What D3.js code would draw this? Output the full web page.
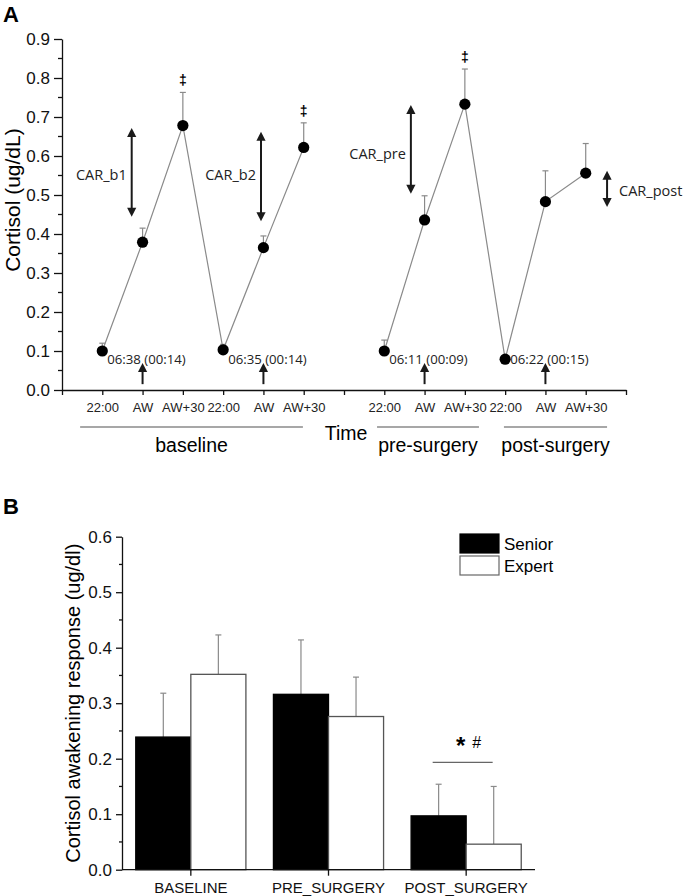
<!DOCTYPE html>
<html><head><meta charset="utf-8">
<script src="https://cdn.jsdelivr.net/npm/d3@7"></script>
<style>
body{margin:0;background:#fff;}
svg{display:block;}
.ax text{font-family:"Liberation Sans",Arial,sans-serif;}
</style>
</head><body>
<svg id="c" width="685" height="896"></svg>
<script>
// ---------- Panel A data ----------
const xIndexLabels = ["", "22:00","AW","AW+30","22:00","AW","AW+30","", "22:00","AW","AW+30","22:00","AW","AW+30",""];
const baselineX = [1,2,3,4,5,6];
const baselineMean = [0.100, 0.379, 0.678, 0.103, 0.365, 0.622];
const baselineSD   = [0.020, 0.036, 0.085, 0.014, 0.030, 0.063];
const surgeryX = [8,9,10,11,12,13];
const surgeryMean = [0.100, 0.436, 0.733, 0.079, 0.483, 0.556];
const surgerySD   = [0.028, 0.062, 0.090, 0.004, 0.079, 0.076];
const daggerX = [3, 6, 10];
const wakeAW = [2, 5, 9, 12];
const wakeLabels = ["06:38 (00:14)", "06:35 (00:14)", "06:11 (00:09)", "06:22 (00:15)"];
const carLabels = ["CAR_b1", "CAR_b2", "CAR_pre", "CAR_post"];
const carX = [1.73, 4.94, 8.66, 13.53];
const carLow = [0.444, 0.433, 0.503, 0.469];
const carHigh = [0.672, 0.662, 0.731, 0.562];
const carLabelY = [0.551, 0.551, 0.605, 0.510];
const phaseLabels = ["baseline", "pre-surgery", "post-surgery"];
const phaseStart = [0.45, 7.82, 10.97];
const phaseEnd = [5.98, 10.35, 13.53];

// ---------- Panel B data ----------
const categories = ["BASELINE", "PRE_SURGERY", "POST_SURGERY"];
const groups = ["Senior", "Expert"];
const seniorCAR = [0.239, 0.316, 0.097];
const seniorSD  = [0.079, 0.098, 0.057];
const expertCAR = [0.352, 0.276, 0.046];
const expertSD  = [0.071, 0.071, 0.104];

const svg = d3.select("#c");
const SANS = '"Liberation Sans", Arial, sans-serif';
const HUM = '"Open Sans", "Noto Sans", sans-serif';
const GREY = "#8a8a8a";
const DARK = "#1a1a1a";

function arrowHead(g, x, y, dir){ // dir=-1 points up, +1 points down; tip at (x,y)
  const L = 9, W = 4.6;
  g.append("path").attr("d", `M${x},${y} L${x-W},${y - dir*L} L${x+W},${y - dir*L} Z`).attr("fill", DARK);
}
function vArrow(g, x, yTop, yBot, both){
  g.append("line").attr("x1",x).attr("x2",x).attr("y1",yTop+6).attr("y2",both?yBot-6:yBot)
    .attr("stroke",DARK).attr("stroke-width",2);
  arrowHead(g, x, yTop, -1);
  if(both) arrowHead(g, x, yBot, 1);
}

// ===================== PANEL A =====================
const xA = d3.scaleLinear().domain([0,14]).range([62,626]);
const yA = d3.scaleLinear().domain([0,0.9]).range([390,39]);
const gA = svg.append("g");

svg.append("text").attr("x",3).attr("y",22).text("A")
  .attr("font-family",SANS).attr("font-weight","bold").attr("font-size",22);

// y axis
const yAxA = gA.append("g").attr("class","ax").attr("transform",`translate(${xA(0)},0)`)
  .call(d3.axisLeft(yA).tickValues(d3.range(0,10).map(i=>i/10)).tickFormat(d3.format(".1f")).tickSize(8).tickPadding(4).tickSizeOuter(0));
yAxA.selectAll("text").attr("font-size",17).attr("fill","#111");
gA.append("g").attr("transform",`translate(${xA(0)},0)`)
  .selectAll("line").data(d3.range(0,9).map(i=>i/10+0.05)).join("line")
  .attr("x1",-4).attr("x2",0).attr("y1",d=>yA(d)).attr("y2",d=>yA(d)).attr("stroke","#111").attr("stroke-width",1.3);

// x axis
const xAxA = gA.append("g").attr("class","ax").attr("transform",`translate(0,${yA(0)})`)
  .call(d3.axisBottom(xA).tickValues(d3.range(0,15)).tickFormat(i=>xIndexLabels[i]).tickSize(5).tickPadding(8).tickSizeOuter(0));
xAxA.selectAll("text").attr("font-family",HUM).attr("font-size",13).attr("fill","#222");
[yAxA,xAxA].forEach(a=>{a.selectAll("path,line").attr("stroke","#111").attr("stroke-width",1.3);});

svg.append("text").attr("transform",`translate(20,${yA(0.487)}) rotate(-90)`).attr("text-anchor","middle")
  .attr("font-family",SANS).attr("font-size",21).text("Cortisol (ug/dL)");

// phase lines / labels
phaseLabels.forEach((p,i)=>{
  gA.append("line").attr("x1",xA(phaseStart[i])).attr("x2",xA(phaseEnd[i])).attr("y1",427).attr("y2",427)
    .attr("stroke",GREY).attr("stroke-width",1.3);
  gA.append("text").attr("x",xA((phaseStart[i]+phaseEnd[i])/2)).attr("y",452).attr("text-anchor","middle")
    .attr("font-family",SANS).attr("font-size",19.5).text(p);
});
gA.append("text").attr("x",xA(7.05)).attr("y",440).attr("text-anchor","middle")
  .attr("font-family",SANS).attr("font-size",19.5).text("Time");

function drawSeries(xs, mean, sd){
  const pts = xs.map((x,i)=>({x, m:mean[i], s:sd[i]}));
  gA.append("path").datum(pts).attr("fill","none").attr("stroke",GREY).attr("stroke-width",1.2)
    .attr("d", d3.line().x(d=>xA(d.x)).y(d=>yA(d.m)));
  const eb = gA.append("g").attr("stroke",GREY).attr("stroke-width",1.2);
  eb.selectAll("line.v").data(pts).join("line").attr("class","v")
    .attr("x1",d=>xA(d.x)).attr("x2",d=>xA(d.x)).attr("y1",d=>yA(d.m)).attr("y2",d=>yA(d.m+d.s));
  eb.selectAll("line.c").data(pts).join("line").attr("class","c")
    .attr("x1",d=>xA(d.x)-3).attr("x2",d=>xA(d.x)+3).attr("y1",d=>yA(d.m+d.s)).attr("y2",d=>yA(d.m+d.s));
  gA.append("g").selectAll("circle").data(pts).join("circle")
    .attr("cx",d=>xA(d.x)).attr("cy",d=>yA(d.m)).attr("r",5.6).attr("fill","#000");
  return pts;
}
const bPts = drawSeries(baselineX, baselineMean, baselineSD);
const sPts = drawSeries(surgeryX, surgeryMean, surgerySD);
const allPts = bPts.concat(sPts);

// double daggers
daggerX.forEach(x=>{
  const p = allPts.find(d=>d.x===x);
  gA.append("text").attr("x",xA(x)).attr("y",yA(p.m+p.s)-7).attr("text-anchor","middle")
    .attr("font-family",SANS).attr("font-weight","bold").attr("font-size",14).text("\u2021");
});

// wake times & small arrows
wakeAW.forEach((x,i)=>{
  gA.append("text").attr("x",xA(x-1)+5).attr("y",364).attr("font-family",HUM).attr("font-size",13.2)
    .attr("fill","#222").text(wakeLabels[i]);
  vArrow(gA, xA(x), yA(0.069), yA(0.015), false);
});

// CAR arrows
carLabels.forEach((lab,i)=>{
  vArrow(gA, xA(carX[i]), yA(carHigh[i]), yA(carLow[i]), true);
  const right = i===3;
  gA.append("text").attr("x",xA(carX[i]) + (right?12:-5)).attr("y",yA(carLabelY[i])).attr("dy","0.35em")
    .attr("text-anchor", right?"start":"end").attr("font-family",HUM).attr("font-size",14.5).attr("fill","#222").text(lab);
});

// ===================== PANEL B =====================
const gB = svg.append("g");
svg.append("text").attr("x",3).attr("y",514).text("B")
  .attr("font-family",SANS).attr("font-weight","bold").attr("font-size",22);

const xB = d3.scaleBand().domain(categories).range([122,535]).paddingInner(0.2).paddingOuter(0.1);
const xSub = d3.scaleBand().domain(groups).range([0,xB.bandwidth()]);
const yB = d3.scaleLinear().domain([0,0.6]).range([869.7,536.7]);

const yAxB = gB.append("g").attr("class","ax").attr("transform",`translate(122,0)`)
  .call(d3.axisLeft(yB).tickValues(d3.range(0,7).map(i=>i/10)).tickFormat(d3.format(".1f")).tickSize(6).tickPadding(4).tickSizeOuter(0));
yAxB.selectAll("text").attr("font-size",17).attr("fill","#111");
gB.append("g").attr("transform",`translate(122,0)`)
  .selectAll("line").data(d3.range(0,6).map(i=>i/10+0.05)).join("line")
  .attr("x1",-3).attr("x2",0).attr("y1",d=>yB(d)).attr("y2",d=>yB(d)).attr("stroke","#111").attr("stroke-width",1.3);

svg.append("text").attr("transform",`translate(80,${yB(0.3)}) rotate(-90)`).attr("text-anchor","middle")
  .attr("font-family",SANS).attr("font-size",20).text("Cortisol awakening response (ug/dl)");

const rows = categories.map((c,i)=>[
  {c, g:"Senior", v:seniorCAR[i], s:seniorSD[i]},
  {c, g:"Expert", v:expertCAR[i], s:expertSD[i]}
]).flat();

// error bars (behind bars)
const ebB = gB.append("g").attr("stroke",GREY).attr("stroke-width",1.2);
ebB.selectAll("line.v").data(rows).join("line").attr("class","v")
  .attr("x1",d=>xB(d.c)+xSub(d.g)+xSub.bandwidth()/2).attr("x2",d=>xB(d.c)+xSub(d.g)+xSub.bandwidth()/2)
  .attr("y1",d=>yB(d.v)).attr("y2",d=>yB(d.v+d.s));
ebB.selectAll("line.c").data(rows).join("line").attr("class","c")
  .attr("x1",d=>xB(d.c)+xSub(d.g)+xSub.bandwidth()/2-3).attr("x2",d=>xB(d.c)+xSub(d.g)+xSub.bandwidth()/2+3)
  .attr("y1",d=>yB(d.v+d.s)).attr("y2",d=>yB(d.v+d.s));

gB.append("g").selectAll("rect").data(rows).join("rect")
  .attr("x",d=>xB(d.c)+xSub(d.g)).attr("width",xSub.bandwidth())
  .attr("y",d=>yB(d.v)).attr("height",d=>yB(0)-yB(d.v))
  .attr("fill",d=>d.g==="Senior"?"#000":"#fff").attr("stroke",d=>d.g==="Senior"?"#000":"#555").attr("stroke-width",1.3);

const xAxB = gB.append("g").attr("class","ax").attr("transform",`translate(0,${yB(0)})`)
  .call(d3.axisBottom(xB).tickSize(6).tickPadding(7).tickSizeOuter(0));
xAxB.select(".domain").attr("d",`M122,0H535`);
xAxB.selectAll("text").attr("font-size",15).attr("fill","#111");
[yAxB,xAxB].forEach(a=>{a.selectAll("path,line").attr("stroke","#111").attr("stroke-width",1.3);});

// significance marker
const pc = xB("POST_SURGERY") + xB.bandwidth()/2;
const sigY = yB(0.1935);
gB.append("line").attr("x1",pc-33.5).attr("x2",pc+26.5).attr("y1",sigY).attr("y2",sigY)
  .attr("stroke","#666").attr("stroke-width",1.3);
gB.append("text").attr("x",pc-5.5).attr("y",sigY-8).attr("text-anchor","middle")
  .attr("font-family",SANS).attr("font-weight","bold").attr("font-size",24).text("*");
gB.append("text").attr("x",pc+10.5).attr("y",sigY-14).attr("text-anchor","middle")
  .attr("font-family",SANS).attr("font-size",16).text("#");

// legend
const lg = gB.append("g").attr("transform","translate(460,534)");
groups.forEach((g,i)=>{
  lg.append("rect").attr("x",0).attr("y",i*22).attr("width",39).attr("height",19)
    .attr("fill",g==="Senior"?"#000":"#fff").attr("stroke",g==="Senior"?"#000":"#666").attr("stroke-width",1.2);
  lg.append("text").attr("x",44).attr("y",i*22+10).attr("dy","0.35em").attr("font-family",SANS).attr("font-size",17).text(g);
});
</script>
</body></html>
